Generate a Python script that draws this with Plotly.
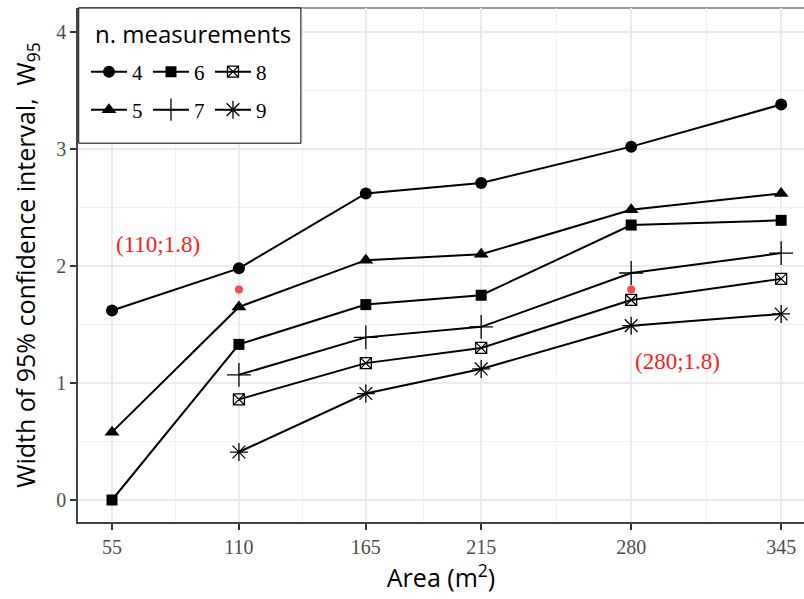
import plotly.graph_objects as go

area = [55, 110, 165, 215, 280, 345]
x_ticks = [55, 110, 165, 215, 280, 345]
x_minor = [82.5, 137.5, 190, 247.5, 312.5]
y_ticks = [0, 1, 2, 3, 4]
y_minor = [0.5, 1.5, 2.5, 3.5]

w95_4 = [1.62, 1.98, 2.62, 2.71, 3.02, 3.38]
w95_5 = [0.58, 1.65, 2.05, 2.10, 2.48, 2.62]
w95_6 = [0.00, 1.33, 1.67, 1.75, 2.35, 2.39]
w95_7 = [None, 1.07, 1.39, 1.48, 1.94, 2.11]
w95_8 = [None, 0.86, 1.17, 1.30, 1.71, 1.89]
w95_9 = [None, 0.41, 0.91, 1.12, 1.49, 1.59]

red_x = [110, 280]
red_y = [1.8, 1.8]
red_labels = ["(110;1.8)", "(280;1.8)"]
red_label_x = [75, 300]
red_label_y = [2.18, 1.18]

legend_title = "n. measurements"

SERIF = "Liberation Serif"
SANS = "Open Sans"

series = [
    ("4", w95_4, "circle", 12, "legend"),
    ("6", w95_6, "square", 11, "legend"),
    ("8", w95_8, "square-x-open", 11, "legend"),
    ("5", w95_5, "triangle-up", 13, "legend2"),
    ("7", w95_7, "cross-thin", 17, "legend2"),
    ("9", w95_9, "asterisk-open", 15, "legend2"),
]

fig = go.Figure()
for name, vals, sym, size, leg in series:
    thin = sym.endswith("-open") or sym == "cross-thin"
    fig.add_trace(go.Scatter(
        x=area, y=vals, name=name, mode="lines+markers",
        line=dict(color="black", width=2),
        marker=dict(symbol=sym, size=size, color="black",
                    line=dict(color="black", width=1.3 if thin else 0)),
        legend=leg, connectgaps=False,
    ))

fig.add_trace(go.Scatter(
    x=red_x, y=red_y, mode="markers", showlegend=False,
    marker=dict(color="#f24b4b", size=8),
))

for tx, ty, tl in zip(red_label_x, red_label_y, red_labels):
    fig.add_annotation(x=tx, y=ty, text=tl, showarrow=False,
                       font=dict(family=SERIF, size=23, color="#ff1a1a"))

# legend frame
fig.add_shape(type="rect", xref="paper", yref="paper",
              x0=0.001, x1=0.307, y0=0.737, y1=1.0,
              line=dict(color="black", width=1), fillcolor="white", layer="above")
fig.add_annotation(xref="paper", yref="paper", x=0.0207, y=0.951,
                   xanchor="left", yanchor="middle", showarrow=False,
                   text=legend_title,
                   font=dict(family=SANS, size=24, color="black"))

fig.update_layout(
    width=804, height=599,
    margin=dict(l=78, r=0, t=8, b=77, autoexpand=False),
    plot_bgcolor="white", paper_bgcolor="white",
    legend=dict(
        orientation="h", x=0.011, y=0.8755, xanchor="left", yanchor="middle",
        font=dict(family=SERIF, size=21, color="black"),
        bgcolor="rgba(0,0,0,0)", entrywidth=11, itemwidth=36, tracegroupgap=0,
    ),
    legend2=dict(
        orientation="h", x=0.011, y=0.8016, xanchor="left", yanchor="middle",
        font=dict(family=SERIF, size=21, color="black"),
        bgcolor="rgba(0,0,0,0)", entrywidth=11, itemwidth=36,
    ),
    xaxis=dict(
        range=[40.26, 354.9], tickvals=x_ticks, automargin=False,
        ticks="outside", ticklen=6, tickwidth=1.5, tickcolor="#333333",
        tickfont=dict(family=SERIF, size=20, color="#4d4d4d"),
        showline=True, linecolor="#444444", linewidth=1.5, mirror=False,
        showgrid=True, gridcolor="#ebebeb", gridwidth=1.6, zeroline=False,
        minor=dict(tickmode="array", tickvals=x_minor, showgrid=True,
                   gridcolor="#f0f0f0", gridwidth=0.8, ticks=""),
        title=dict(text="Area (m<sup>2</sup>)", standoff=10,
                   font=dict(family=SANS, size=25, color="black")),
    ),
    yaxis=dict(
        range=[-0.188, 4.205], tickvals=y_ticks, automargin=False,
        ticks="outside", ticklen=6, tickwidth=1.5, tickcolor="#333333",
        tickfont=dict(family=SERIF, size=20, color="#4d4d4d"),
        showline=True, linecolor="#444444", linewidth=1.5,
        showgrid=True, gridcolor="#ebebeb", gridwidth=1.6, zeroline=False,
        minor=dict(tickmode="array", tickvals=y_minor, showgrid=True,
                   gridcolor="#f0f0f0", gridwidth=0.8, ticks=""),
        title=dict(text="Width of 95% confidence interval,  W<sub>95</sub>", standoff=14,
                   font=dict(family=SANS, size=25, color="black")),
    ),
)

# top panel border
fig.add_shape(type="line", xref="paper", yref="paper", x0=0, x1=1, y0=1, y1=1,
              line=dict(color="#777777", width=1.5), layer="below")

fig.write_html("out.html", config={"displayModeBar": False},
               post_script="document.body.style.margin='0';document.body.style.overflow='hidden';")
